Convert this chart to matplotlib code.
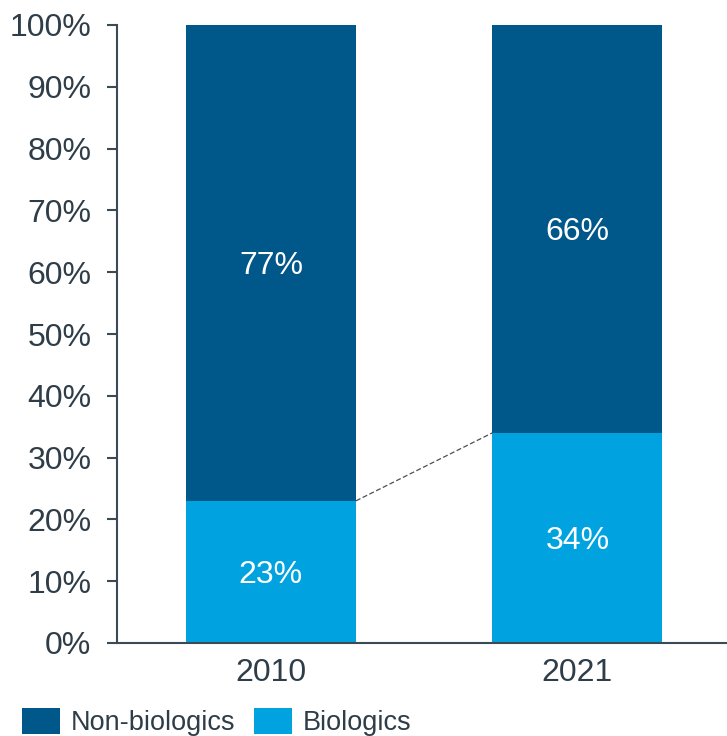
import matplotlib
matplotlib.use("Agg")
import matplotlib.pyplot as plt
from matplotlib.patches import Patch

plt.rcParams['font.family'] = ['Liberation Sans', 'DejaVu Sans']

years = ["2010", "2021"]
biologics = [23, 34]
non_biologics = [77, 66]
series_names = ["Non-biologics", "Biologics"]
y_ticks = [0, 10, 20, 30, 40, 50, 60, 70, 80, 90, 100]

dark_blue = "#00578a"
light_blue = "#00a3e0"
text_col = "#2e3d48"
axis_col = "#3c4a54"

fig = plt.figure(figsize=(7.27, 7.36), dpi=100)
ax = fig.add_axes([117 / 727, 1 - 643 / 736, 1 - 117 / 727, (643 - 25) / 736])

x = list(range(len(years)))
width = 0.555
ax.bar(x, biologics, width=width, color=light_blue, zorder=2)
ax.bar(x, non_biologics, width=width, bottom=biologics, color=dark_blue, zorder=2)

for xi, b, n in zip(x, biologics, non_biologics):
    for val, ypos in ((b, b / 2), (n, b + n / 2)):
        ax.annotate(f"{val}%", (xi, ypos), xytext=(0, -2.5), textcoords="offset points",
                    ha="center", va="center", color="white", fontsize=23)

# dashed connector between the tops of the Biologics segments
ax.plot([x[0] + width / 2, x[1] - width / 2], [biologics[0], biologics[1]],
        ls=(0, (4, 2)), color="#4a4f55", lw=0.9, zorder=3)

ax.set_xlim(-0.502, 1.488)
ax.set_ylim(0, 100)
ax.set_xticks(x)
ax.set_xticklabels(years)
ax.set_yticks(y_ticks)
ax.set_yticklabels([f"{t}%" for t in y_ticks])

ax.tick_params(axis="x", length=0, pad=11, labelsize=23, labelcolor=text_col)
ax.tick_params(axis="y", length=7.5, width=1.5, pad=11, labelsize=23,
               labelcolor=text_col, color=axis_col)

for s in ["top", "right"]:
    ax.spines[s].set_visible(False)
for s in ["left", "bottom"]:
    ax.spines[s].set_color(axis_col)
    ax.spines[s].set_linewidth(1.5)

handles = [Patch(facecolor=dark_blue), Patch(facecolor=light_blue)]
fig.legend(handles, series_names, loc="lower left",
           bbox_to_anchor=(22 / 727, 0.0), frameon=False, ncol=2,
           fontsize=19.5, handlelength=1.4, handleheight=1.1,
           handletextpad=0.4, columnspacing=0.7, borderpad=0,
           borderaxespad=0, labelcolor=text_col)

fig.savefig("out.png", dpi=100)
